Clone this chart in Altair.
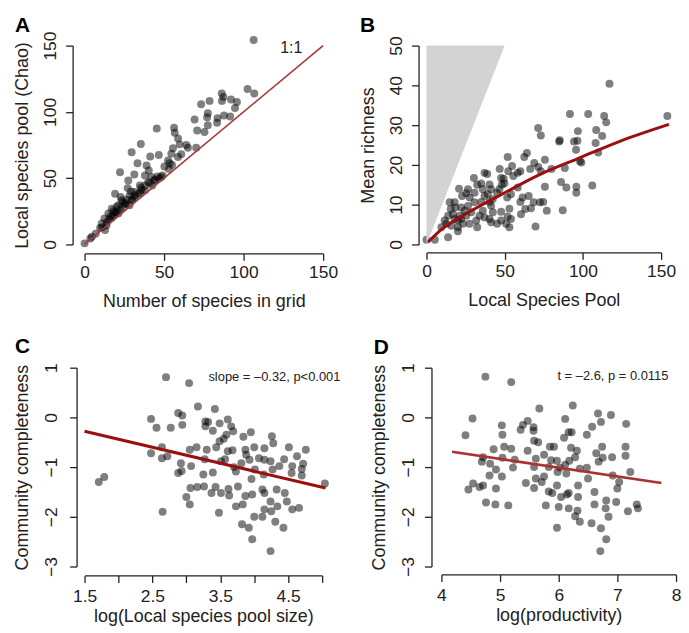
import altair as alt
import pandas as pd

FONT = "Liberation Sans, Arial, Helvetica, sans-serif"
INK = "#222222"

# ---------------- Panel A: Chao local pool vs species in grid ----------------
a_x = [106.3, 102.5, 106.7, 86.3, 87.3, 92.1, 95.8, 94.6, 86.4, 78.6,
       73.3, 77.5, 77.1, 83.6, 87.7, 91.5, 69.2, 77.5, 83.3, 70.8,
       75.4, 56.3, 56.7, 45.4, 58.8, 59.8, 64.0, 65.0, 55.6, 60.8,
       54.6, 29.6, 35.4, 41.3, 46.7, 58.8, 70.2, 52.5, 53.5, 33.3,
       39.0, 40.4, 22.3, 31.3, 38.0, 42.1, 45.8, 48.3, 44.2, 40.0,
       27.5, 34.8, 27.1, 29.2, 19.2, 33.8, 38.0, 31.3, 26.5, 23.3,
       29.6, 21.3, 25.4, 28.3, 17.1, 22.3, 19.2, 15.0, 18.1, 21.3,
       12.5, 15.4, 10.8, 13.8, 9.8, 12.9, 4.6, 3.6, 0.0, 24.2,
       20.2, 18.1, 16.5, 22.7, 28.3, 31.3, 35.6, 38.0, 41.0, 42.5,
       50.2, 26.0, 30.0, 32.0, 35.0, 36.0, 44.0, 47.0, 49.0, 53.0,
       55.0, 14.0, 17.0, 20.0, 24.0, 7.0, 11.0]
a_y = [154.3, 117.3, 113.8, 113.8, 111.3, 109.3, 107.5, 103.0, 108.3, 108.3,
       105.8, 99.0, 96.0, 95.3, 97.3, 96.5, 94.3, 90.0, 91.8, 86.0,
       84.8, 88.0, 84.3, 87.5, 80.0, 75.5, 75.0, 73.0, 72.5, 68.0,
       68.5, 69.5, 75.8, 66.3, 67.5, 66.0, 73.0, 63.3, 61.3, 61.3,
       59.5, 55.8, 54.5, 52.8, 52.0, 50.8, 51.3, 50.8, 48.3, 47.0,
       48.3, 44.5, 42.5, 40.0, 38.3, 38.3, 40.8, 35.8, 33.8, 33.3,
       33.3, 29.5, 30.3, 29.5, 27.0, 26.3, 24.5, 23.3, 22.0, 23.3,
       19.5, 18.8, 15.8, 14.5, 12.5, 10.8, 5.8, 4.5, 0.8, 32.0,
       28.5, 25.3, 21.3, 35.8, 37.0, 39.5, 42.8, 44.5, 46.3, 44.5,
       58.8, 31.0, 34.0, 37.0, 39.0, 41.0, 49.0, 50.0, 52.0, 57.0,
       60.0, 17.0, 20.0, 24.0, 28.0, 8.0, 13.0]
a_line_x = [0, 150]
a_line_y = [0, 150]

# ---------------- Panel B: mean richness vs local species pool ----------------
b_x = [91.7, 103.4, 113.6, 114.9, 154.0, 71.4, 73.1, 96.8, 108.5, 112.3,
       84.8, 85.2, 94.3, 96.5, 108.1, 95.6, 109.8, 98.1, 99.0, 86.0,
       89.4, 95.8, 95.8, 106.0, 87.1, 88.4, 75.7, 79.9, 75.7, 76.9,
       74.6, 72.5, 69.7, 71.4, 68.9, 66.3, 73.1, 64.2, 62.5, 51.9,
       54.7, 46.8, 60.0, 58.3, 55.5, 52.3, 47.7, 49.4, 49.8, 48.1,
       46.6, 45.1, 37.1, 38.8, 30.3, 35.0, 40.3, 32.4, 36.0, 41.3,
       39.2, 37.1, 30.7, 26.5, 25.4, 20.8, 22.7, 27.5, 30.7, 35.0,
       40.3, 41.3, 36.0, 42.4, 47.7, 53.0, 51.9, 47.7, 45.1, 50.9,
       53.0, 54.0, 60.0, 61.4, 65.3, 60.4, 63.1, 68.5, 66.8, 58.3,
       54.0, 51.6, 42.4, 18.0, 14.8, 18.4, 16.9, 15.5, 22.2, 26.5,
       24.4, 28.6, 25.4, 21.2, 22.2, 20.1, 18.0, 11.6, 12.7, 13.8,
       15.9, 20.1, 20.1, 23.3, 27.5, 31.8, 32.4, 33.9, 37.1, 40.3,
       41.3, 13.8, 5.3, 0.0, 9.5, 117.0]
b_y = [32.8, 32.8, 32.3, 30.7, 32.3, 29.3, 27.4, 28.5, 28.8, 27.3,
       25.9, 26.2, 25.9, 26.1, 25.5, 23.8, 23.1, 20.9, 20.6, 15.7,
       14.3, 14.5, 13.0, 14.8, 8.6, 19.2, 21.3, 19.0, 14.5, 8.5,
       10.7, 10.6, 4.5, 19.5, 20.5, 19.0, 18.4, 23.0, 22.0, 22.0,
       19.7, 19.0, 18.4, 18.0, 17.2, 18.4, 16.7, 16.5, 15.3, 15.0,
       13.9, 13.0, 18.0, 17.7, 16.7, 15.3, 15.1, 15.0, 13.9, 13.9,
       12.6, 12.2, 13.0, 13.9, 12.9, 14.0, 12.2, 11.8, 10.6, 10.7,
       10.7, 9.7, 8.5, 8.1, 8.2, 9.0, 7.0, 6.0, 5.2, 5.2,
       4.3, 6.4, 10.7, 11.8, 12.2, 7.6, 8.9, 10.6, 9.1, 14.3,
       12.6, 11.8, 11.4, 10.6, 10.6, 9.3, 7.6, 8.9, 9.3, 9.7,
       8.5, 8.1, 7.2, 7.2, 6.4, 6.0, 6.4, 6.0, 5.2, 7.2,
       4.7, 4.3, 3.3, 5.2, 5.2, 6.0, 4.3, 7.2, 6.8, 6.4,
       5.6, 1.8, 1.2, 1.2, 4.3, 40.4]
b_curve_x = [1, 10, 20, 39, 50, 72, 97.5, 124, 155]
b_curve_y = [0.6, 3.9, 6.5, 10.7, 13.0, 17.5, 21.7, 26.0, 30.2]
b_tri_x = [0, 50]
b_tri_lo = [0, 50]
b_tri_hi = [50, 50]

# ---------------- Panel C: completeness vs log(pool size) ----------------
c_x = [2.70, 3.04, 3.17, 3.42, 2.88, 2.94, 2.48, 2.56, 2.77, 2.94,
       3.28, 3.32, 3.49, 3.61, 3.66, 3.28, 3.39, 3.69, 3.59, 3.55,
       3.49, 3.84, 3.95, 4.26, 4.28, 3.68, 3.87, 4.00, 4.15, 4.51,
       4.76, 2.64, 2.48, 2.64, 2.72, 3.05, 3.15, 3.30, 3.44, 3.61,
       3.88, 3.93, 4.07, 4.15, 4.24, 4.44, 4.63, 4.56, 4.72, 4.70,
       4.55, 4.70, 4.37, 4.27, 2.92, 3.07, 3.27, 3.25, 3.39, 3.51,
       3.57, 3.70, 3.73, 3.81, 3.96, 4.01, 4.14, 2.93, 2.88, 1.71,
       1.79, 3.06, 3.16, 3.26, 3.43, 3.37, 3.51, 3.62, 3.76, 3.63,
       3.73, 3.87, 3.97, 4.12, 4.15, 4.33, 4.45, 4.48, 4.56, 4.66,
       4.24, 4.34, 4.15, 4.25, 4.12, 4.00, 4.31, 4.43, 3.82, 3.92,
       3.97, 4.24, 3.48, 3.83, 3.05, 3.00, 2.65, 5.04]
c_y = [0.81, 0.69, 0.22, 0.17, 0.09, 0.04, -0.03, -0.21, -0.21, -0.15,
       -0.08, -0.09, -0.12, -0.04, -0.18, -0.18, -0.27, -0.28, -0.35, -0.43,
       -0.48, -0.39, -0.30, -0.38, -0.52, -0.66, -0.65, -0.60, -0.62, -0.60,
       -0.65, -0.60, -0.72, -0.82, -0.78, -0.65, -0.60, -0.65, -0.60, -0.68,
       -0.75, -0.85, -0.82, -0.85, -0.88, -0.84, -0.78, -0.98, -0.93, -1.04,
       -1.12, -1.17, -0.98, -1.05, -0.92, -0.98, -0.84, -1.15, -1.11, -0.88,
       -0.84, -1.00, -1.09, -0.92, -1.24, -1.05, -1.15, -1.08, -1.12, -1.30,
       -1.20, -1.42, -1.40, -1.39, -1.40, -1.52, -1.52, -1.44, -1.39, -1.57,
       -1.79, -1.58, -1.55, -1.45, -1.52, -1.45, -1.52, -1.69, -1.85, -1.82,
       -1.69, -1.79, -1.85, -1.89, -2.00, -2.00, -2.10, -2.22, -2.15, -2.22,
       -2.45, -2.69, -1.92, -1.75, -1.75, -1.60, -1.90, -1.33]
c_line_x = [1.5, 5.05]
c_line_y = [-0.28, -1.42]

# ---------------- Panel D: completeness vs log(productivity) ----------------
d_x = [4.75, 5.19, 5.67, 6.24, 4.53, 5.03, 4.41, 5.04, 5.39, 5.47,
       5.35, 5.57, 5.57, 5.58, 5.65, 6.11, 6.17, 6.22, 6.09, 6.48,
       6.67, 6.72, 6.89, 6.57, 7.15, 4.89, 5.07, 5.19, 4.71, 4.83,
       5.04, 5.25, 5.22, 4.93, 4.82, 5.03, 5.47, 5.61, 5.58, 5.75,
       5.85, 5.92, 5.87, 5.97, 5.83, 6.02, 6.11, 6.21, 6.31, 6.28,
       6.18, 6.36, 6.48, 6.64, 6.75, 6.68, 6.91, 6.74, 7.14, 7.14,
       7.22, 6.92, 6.50, 6.13, 5.98, 5.75, 5.61, 5.71, 5.44, 5.58,
       5.83, 5.89, 5.97, 6.14, 6.04, 6.17, 6.33, 6.33, 6.61, 6.61,
       6.81, 7.00, 7.03, 6.98, 6.80, 6.85, 7.33, 7.35, 7.18, 4.54,
       4.46, 4.65, 4.71, 4.93, 4.76, 4.92, 5.14, 5.78, 6.00, 6.17,
       6.32, 6.28, 6.36, 6.56, 6.72, 5.97, 6.81, 6.71, 4.69]
d_y = [0.82, 0.71, 0.18, 0.24, -0.02, -0.16, -0.36, -0.35, -0.15, -0.07,
       -0.25, -0.20, -0.27, -0.47, -0.50, -0.03, -0.30, -0.30, -0.41, -0.35,
       0.08, -0.09, 0.05, -0.19, -0.13, -0.64, -0.59, -0.63, -0.80, -0.93,
       -0.81, -0.85, -1.01, -1.05, -1.17, -1.19, -0.67, -0.83, -1.00, -0.75,
       -0.59, -0.59, -0.86, -0.87, -1.00, -1.01, -0.95, -0.61, -0.67, -0.80,
       -0.87, -1.03, -1.01, -0.72, -0.81, -0.89, -0.80, -0.59, -0.59, -0.77,
       -1.10, -1.17, -1.23, -1.13, -1.10, -1.19, -1.23, -1.30, -1.32, -1.42,
       -1.49, -1.52, -1.37, -1.55, -1.60, -1.52, -1.37, -1.60, -1.50, -1.75,
       -1.67, -1.43, -1.30, -1.70, -1.83, -2.00, -1.75, -1.83, -1.89, -1.33,
       -1.45, -1.40, -1.37, -1.43, -1.71, -1.75, -1.77, -1.77, -1.80, -1.83,
       -1.88, -1.99, -2.10, -2.13, -2.23, -2.22, -2.45, -2.69, -0.89]
d_line_x = [4.18, 7.75]
d_line_y = [-0.69, -1.32]


def axis_x(values, title, offset, pad, title_y, label_expr=None, flush=False):
    kw = dict(values=values, tickCount=len(values), title=title, offset=offset,
              tickSize=7, tickWidth=1.3, domainWidth=1.3, domainColor=INK, tickColor=INK,
              labelColor=INK, titleColor=INK, labelFont=FONT, titleFont=FONT,
              labelFontSize=17.5, titleFontSize=18, titleFontWeight="normal",
              labelPadding=pad, labelBaseline="top", labelAlign="center",
              labelOverlap=False, grid=False, titleY=title_y,
              titleBaseline="alphabetic", labelFlush=flush)
    if label_expr:
        kw["labelExpr"] = label_expr
    else:
        kw["format"] = "d"
    return alt.Axis(**kw)


def axis_y(values, title, offset, pad, title_x):
    return alt.Axis(values=values, tickCount=len(values), title=title, offset=offset,
                    tickSize=7, tickWidth=1.3, domainWidth=1.3, domainColor=INK,
                    tickColor=INK, labelColor=INK, titleColor=INK, labelFont=FONT,
                    titleFont=FONT, labelFontSize=17.5, titleFontSize=18,
                    titleFontWeight="normal", labelPadding=pad, labelAngle=270,
                    labelAlign="center", labelBaseline="alphabetic", labelOverlap=False,
                    grid=False, titleX=title_x, titleAngle=270,
                    titleBaseline="alphabetic", titleAlign="center", format="d")


def letter_layer(letter, lx, ly):
    return alt.Chart(pd.DataFrame({"t": [letter]})).mark_text(
        align="left", baseline="alphabetic", fontSize=21, fontWeight="bold",
        font=FONT, color="black").encode(x=alt.value(lx), y=alt.value(ly), text="t:N")


def points_layer(xs, ys, xs_scale, ys_scale, xax, yax):
    df = pd.DataFrame({"x": xs, "y": ys})
    return alt.Chart(df).mark_circle(size=64, color="black", opacity=0.5).encode(
        x=alt.X("x:Q", scale=xs_scale, axis=xax),
        y=alt.Y("y:Q", scale=ys_scale, axis=yax))


def line_layer(xs, ys, xs_scale, ys_scale, color, width, interp="linear"):
    df = pd.DataFrame({"x": xs, "y": ys})
    return alt.Chart(df).mark_line(color=color, strokeWidth=width, interpolate=interp).encode(
        x=alt.X("x:Q", scale=xs_scale),
        y=alt.Y("y:Q", scale=ys_scale))


def note_layer(x, y, label, xs_scale, ys_scale, size, align):
    df = pd.DataFrame({"x": [x], "y": [y], "t": [label]})
    return alt.Chart(df).mark_text(fontSize=size, font=FONT, color=INK, align=align,
                                   baseline="middle").encode(
        x=alt.X("x:Q", scale=xs_scale),
        y=alt.Y("y:Q", scale=ys_scale), text="t:N")


# Panel A
sxA = alt.Scale(domain=[0, 150], nice=False)
syA = alt.Scale(domain=[0, 150], nice=False)
panelA = alt.layer(
    points_layer(a_x, a_y, sxA, syA,
                 axis_x([0, 50, 100, 150], "Number of species in grid", 9, 3, 53),
                 axis_y([0, 50, 100, 150], "Local species pool (Chao)", 12, 10, -45)),
    line_layer(a_line_x, a_line_y, sxA, syA, "#a83a3a", 1.6),
    note_layer(130, 148, "1:1", sxA, syA, 16, "center"),
    letter_layer("A", -70, -14),
).properties(width=240, height=200)

# Panel B
sxB = alt.Scale(domain=[0, 150], nice=False, zero=False)
syB = alt.Scale(domain=[0, 50], nice=False, zero=False)
tri = pd.DataFrame({"x": b_tri_x, "lo": b_tri_lo, "hi": b_tri_hi})
panelB = alt.layer(
    points_layer(b_x, b_y, sxB, syB,
                 axis_x([0, 50, 100, 150], "Local Species Pool", 8, 3, 53),
                 axis_y([0, 10, 20, 30, 40, 50], "Mean richness", 8, 10, -45)),
    alt.Chart(tri).mark_area(color="#d3d3d3", opacity=1).encode(
        x=alt.X("x:Q", scale=sxB), y=alt.Y("lo:Q", scale=syB), y2="hi:Q"),
    line_layer(b_curve_x, b_curve_y, sxB, syB, "#9b0f0f", 3, "monotone"),
    letter_layer("B", -67, -14),
).properties(width=236, height=200)

# Panel C
sxC = alt.Scale(domain=[1.5, 5.0], nice=False, zero=False)
syC = alt.Scale(domain=[-3, 1], nice=False, zero=False)
c_expr = ("indexof(['1.5','2.5','3.5','4.5'], format(datum.value, '.1f')) >= 0 ? "
          "format(datum.value, '.1f') : ''")
panelC = alt.layer(
    points_layer(c_x, c_y, sxC, syC,
                 axis_x([1.5, 2.0, 2.5, 3.0, 3.5, 4.0, 4.5, 5.0], "log(Local species pool size)",
                        9, 5, 46, c_expr),
                 axis_y([-3, -2, -1, 0, 1], "Community completeness", 8, 13, -49)),
    line_layer(c_line_x, c_line_y, sxC, syC, "#9b0f0f", 3),
    note_layer(5.27, 0.81, "slope = \u20130.32, p<0.001", sxC, syC, 13, "right"),
    letter_layer("C", -70, -15),
).properties(width=239, height=200)

# Panel D
sxD = alt.Scale(domain=[4, 8], nice=False, zero=False)
syD = alt.Scale(domain=[-3, 1], nice=False, zero=False)
panelD = alt.layer(
    points_layer(d_x, d_y, sxD, syD,
                 axis_x([4, 5, 6, 7, 8], "log(productivity)", 8, 5, 46, flush=True),
                 axis_y([-3, -2, -1, 0, 1], "Community completeness", 10, 11, -47)),
    line_layer(d_line_x, d_line_y, sxD, syD, "#a83232", 2.6),
    note_layer(7.87, 0.83, "t = \u20132.6, p = 0.0115", sxD, syD, 13, "right"),
    letter_layer("D", -68, -14),
).properties(width=236, height=200)

row1 = alt.hconcat(panelA, panelB, spacing=104, bounds="flush")
row2 = alt.hconcat(panelC, panelD, spacing=120, bounds="flush")
chart = alt.vconcat(row1, row2, spacing=324, bounds="flush").configure_view(
    stroke=None).configure_axis(labelOverlap=False).properties(
    background="white",
    padding={"left": 5, "top": 5, "right": 0, "bottom": 0})

chart.save("out.html", embed_options={"renderer": "svg", "actions": False})
